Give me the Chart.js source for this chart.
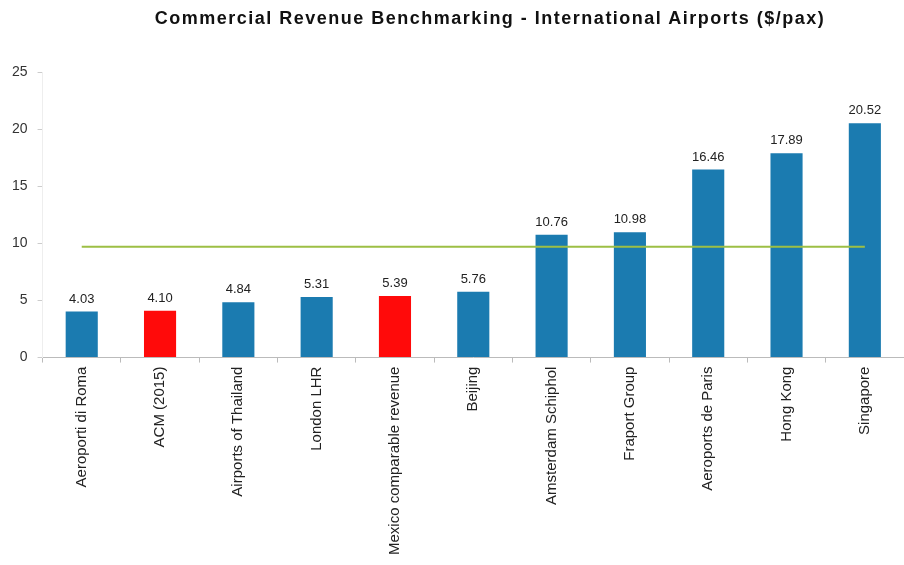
<!DOCTYPE html>
<html>
<head>
<meta charset="utf-8">
<script src="https://cdn.jsdelivr.net/npm/chart.js@4.4.1/dist/chart.umd.min.js"></script>
<style>
  html, body { margin: 0; padding: 0; background: #fff; }
  #wrap { width: 904px; height: 565px; position: relative; }
  #title {
    position: absolute; top: 8px; left: 490px; transform: translateX(-50%);
    white-space: nowrap; font: bold 18px Arial, "Liberation Sans", sans-serif;
    letter-spacing: 1.5px; color: #111;
  }
  canvas { position: absolute; left: 0; top: 0; }
</style>
</head>
<body>
<div id="wrap">
  <canvas id="chart" width="904" height="565"></canvas>
  <div id="title">Commercial Revenue Benchmarking - International Airports ($/pax)</div>
</div>
<script>
  const CATEGORIES = [
    "Aeroporti di Roma",
    "ACM (2015)",
    "Airports of Thailand",
    "London LHR",
    "Mexico comparable revenue",
    "Beijing",
    "Amsterdam Schiphol",
    "Fraport Group",
    "Aeroports de Paris",
    "Hong Kong",
    "Singapore",
  ];
  const REVENUE = [4.03, 4.10, 4.84, 5.31, 5.39, 5.76, 10.76, 10.98, 16.46, 17.89, 20.52];
  const HIGHLIGHT = [false, true, false, false, true, false, false, false, false, false, false];
  const AVERAGE = [9.7, 9.7, 9.7, 9.7, 9.7, 9.7, 9.7, 9.7, 9.7, 9.7, 9.7];
  const Y_TICKS = [0, 5, 10, 15, 20, 25];

  const BLUE = "#1b7bb0";
  const RED = "#ff0a0a";
  const GREEN = "#9dbf45";
  const FONT = "Arial, 'Liberation Sans', sans-serif";

  const valueLabels = {
    id: "valueLabels",
    afterDatasetsDraw(chart) {
      const ctx = chart.ctx;
      const meta = chart.getDatasetMeta(0);
      ctx.save();
      ctx.font = "13px " + FONT;
      ctx.fillStyle = "#222";
      ctx.textAlign = "center";
      ctx.textBaseline = "bottom";
      meta.data.forEach((bar, i) => {
        ctx.fillText(REVENUE[i].toFixed(2), bar.x, bar.y - 6);
      });
      ctx.restore();
    },
  };

  new Chart(document.getElementById("chart"), {
    data: {
      labels: CATEGORIES,
      datasets: [
        {
          type: "bar",
          data: REVENUE,
          backgroundColor: HIGHLIGHT.map((h) => (h ? RED : BLUE)),
          barPercentage: 0.82,
          categoryPercentage: 0.5,
          order: 2,
        },
        {
          type: "line",
          data: AVERAGE,
          borderColor: GREEN,
          borderWidth: 2,
          pointRadius: 0,
          order: 1,
        },
      ],
    },
    options: {
      responsive: false,
      animation: false,
      layout: { padding: { left: 2, right: 0, top: 72, bottom: 6 } },
      plugins: {
        legend: { display: false },
        tooltip: { enabled: false },
        title: { display: false },
      },
      scales: {
        x: {
          grid: { display: true, drawOnChartArea: false, offset: true, tickLength: 5, color: "#bbb" },
          border: { color: "#bbb" },
          ticks: {
            maxRotation: 90,
            minRotation: 90,
            autoSkip: false,
            padding: 4,
            color: "#222",
            font: { family: FONT, size: 15 },
          },
        },
        y: {
          min: 0,
          max: 25,
          afterBuildTicks(axis) {
            axis.ticks = Y_TICKS.map((v) => ({ value: v }));
          },
          grid: { display: true, drawOnChartArea: false, tickLength: 5, color: "#ccc" },
          border: { color: "#eee" },
          ticks: {
            color: "#333",
            padding: 10,
            font: { family: FONT, size: 14 },
          },
        },
      },
    },
    plugins: [valueLabels],
  });
</script>
</body>
</html>
